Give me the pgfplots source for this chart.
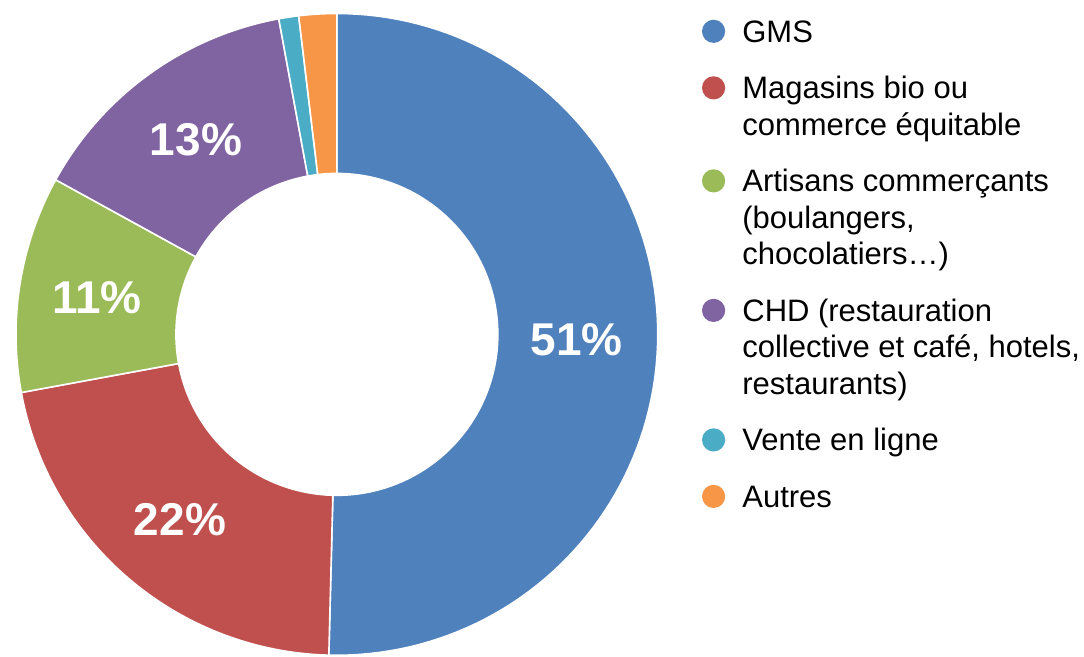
\documentclass[border=0pt]{standalone}
\usepackage{pgfplots}
\pgfplotsset{compat=1.18}
\usepackage{fontspec}
\setmainfont{Liberation Sans}
\definecolor{cGMS}{HTML}{4F81BD}
\definecolor{cBio}{HTML}{C0504D}
\definecolor{cArt}{HTML}{9BBB59}
\definecolor{cCHD}{HTML}{8064A2}
\definecolor{cWeb}{HTML}{4BACC6}
\definecolor{cAut}{HTML}{F79646}
% #1 = cumulative share before the slice (%), #2 = share of the slice (%), #3 = colour,
% #4 = legend text, #5 = shift of the legend dot up to the first line
\newcommand{\donutslice}[5]{%
  \addplot[fill=#3, draw=white, line width=0.8pt, line join=round,
    samples at={0,1,...,202}, variable=\t,
    legend image post style={yshift=#5},
    declare function={
      rr(\s)=ifthenelse(\s<=100||\s>=202,321,161);
      aa(\s)=ifthenelse(\s<=100, 90-3.6*(#1+#2*\s/100),
             ifthenelse(\s>=202, 90-3.6*#1, 90-3.6*(#1+#2*(201-\s)/100)));
    }]
    ({337+rr(\t)*cos(aa(\t))},{-334.5+rr(\t)*sin(aa(\t))});
  \addlegendentry{#4}%
}
\begin{document}
\begin{tikzpicture}
\begin{axis}[
  scale only axis, width=542pt, height=328pt,
  xmin=0, xmax=1084, ymin=-656, ymax=0,
  hide axis, clip=false,
  legend image code/.code={\fill[#1,draw=none] (0pt,5.5pt) circle (5.8pt);},
  legend style={draw=none, fill=none, inner sep=0pt, outer sep=0pt,
    at={(axis description cs:0.6478,0.9805)}, anchor=north west,
    font=\fontsize{15.5pt}{18.25pt}\selectfont,
    cells={anchor=base west, align=left, inner sep=0pt},
    column sep=6.6pt, row sep=10pt},
]
\path (axis cs:0,0) rectangle (axis cs:1084,-656);
\donutslice{0}{50.4}{cGMS}{\strut GMS}{0pt}
\donutslice{50.4}{21.7}{cBio}{\strut Magasins bio ou\\\strut commerce équitable}{18.25pt}
\donutslice{72.1}{10.9}{cArt}{\strut Artisans commerçants\\\strut (boulangers,\\\strut chocolatiers…)}{36.5pt}
\donutslice{83.0}{14.1}{cCHD}{\strut CHD (restauration\\\strut collective et café, hotels,\\\strut restaurants)}{36.5pt}
\donutslice{97.1}{1.0}{cWeb}{\strut Vente en ligne}{0pt}
\donutslice{98.1}{1.9}{cAut}{\strut Autres}{0pt}
\begin{scope}[every node/.style={text=white, font=\fontsize{23pt}{27pt}\selectfont\bfseries}]
\node at (axis cs:577,-340) {51\%};
\node at (axis cs:180,-520) {22\%};
\node at (axis cs:97,-298) {11\%};
\node at (axis cs:196,-140) {13\%};
\end{scope}
\end{axis}
\end{tikzpicture}
\end{document}
